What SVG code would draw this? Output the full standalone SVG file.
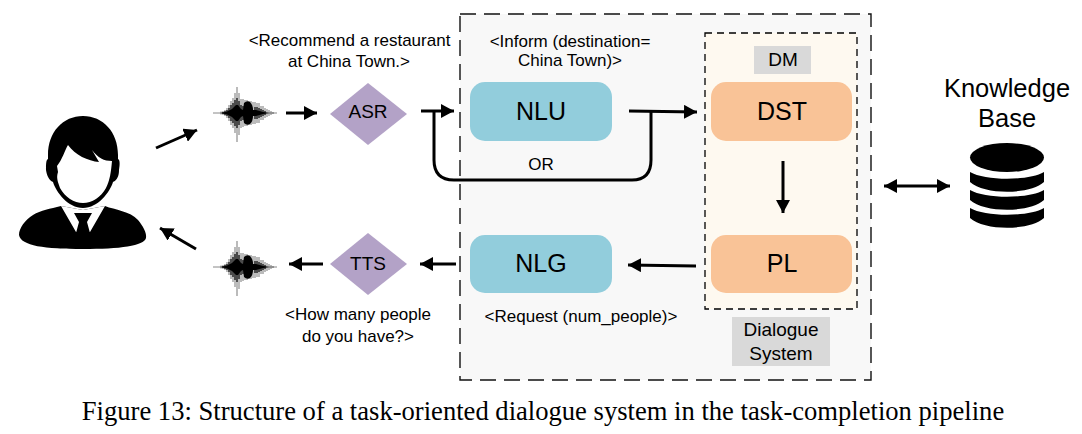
<svg xmlns="http://www.w3.org/2000/svg" width="1082" height="434" viewBox="0 0 1082 434">
<style>
text{font-family:"Liberation Sans",Arial,sans-serif;fill:#000;text-anchor:middle}
.lb{font-size:17px}
.sh{font-size:19px}
.nd{font-size:25px}
.ln{fill:none;stroke:#000;stroke-width:3}
.blue{fill:#92cddc}
.org{fill:#f9c397}
.pur{fill:#b3a2c7}
.gr{fill:#d9d9d9}
</style>
<defs>
<marker id="a" markerUnits="userSpaceOnUse" markerWidth="14" markerHeight="14" refX="13" refY="7" orient="auto-start-reverse"><path d="M0 0L13 7L0 14Z" fill="#000"/></marker>
<g id="wave">
<path d="M-32 0H32" stroke="#888" stroke-width="1" fill="none"/>
<path d="M-24 -1.500V1.500M-22 -2V2M-20 -3V3M-18 -5V5M-16 -8V8M-14 -12V12M-12 -15V15M-10 -20V20M-8 -26V29M-6 -20V22M-4 -14V15M-2 -14V14M0 -13V13M2 -13V13M4 -12V12M6 -12V12M8 -11V11M10 -11V11M12 -10V10M14 -10V10M16 -7V7M18 -7V7M20 -5V5M22 -4V4M24 -3V3M26 -2V2M28 -1V1" stroke="#000" stroke-width="1.400" opacity=".38" fill="none"/>
<path d="M-22 -1V1M-20 -2V2M-18 -3V3M-16 -5V5M-14 -8V8M-12 -10V10M-10 -13V13M-8 -15V15M-6 -12V12M-4 -8V8M-2 -7V7M10 -6V6M12 -6V6M14 -5V5M16 -4V4M18 -3V3M20 -2V2" stroke="#000" stroke-width="1.600" opacity=".75" fill="none"/>
<path d="M-24 0L-18 -1.500L-13 -4L-9 -8L-7 -8L-4 -4L-2 -3L-1 -10Q2 -13 5 -11Q8 -8 8 -3L11 -3L18 -1L24 0L18 1L11 3L8 3Q8 8 5 11Q2 13 -1 10L-2 3L-4 4L-7 8L-9 8L-13 4L-18 1.500Z" fill="#000"/>
</g>
</defs>
<rect width="1082" height="434" fill="#fff"/>
<g id="dialogue-system">
<rect x="460" y="14" width="411" height="366" fill="#f8f8f8" stroke="#111" stroke-width="1.400" stroke-dasharray="16 8"/>
<rect x="705" y="33" width="152" height="276" fill="#fef9f0" stroke="#000" stroke-width="1.300" stroke-dasharray="7 5"/>
<rect class="gr" x="732" y="317" width="98" height="49"/>
<text class="sh" x="781" y="336">Dialogue</text>
<text class="sh" x="781" y="360">System</text>
</g>
<g id="user">
<path d="M48 155C48 132 63 116 83 116C103 116 118 132 118 155L118 159C120 160 120 164 119 170C119 176 117 180 113 182C110 192 98 208 83 208C68 208 56 192 53 182C49 180 47 176 46 170C46 164 46 160 48 159Z" fill="#000"/>
<path d="M57 166C62 160 65 150 68 145C75 155 88 161 99 162L92 150C98 158 104 161 112 161C111 172 110 180 106 188C101 197 92 203 83 203C74 203 65 197 60 188C58 182 56 178 58 172Z" fill="#fff"/>
<path d="M61 206L83 210L105 206C115 210 130 211 138 220C143 226 147 233 146 238C144 246 120 249 83 249C45 249 21 246 19 235C19 228 25 220 33 215C41 210 50 209 61 206Z" fill="#000"/>
<path d="M61 206L83 210L105 206L90 232L76 232Z" fill="#fff"/>
<path d="M74 213L92 213L87 222L90 233L76 233L79 222Z" fill="#000"/>
</g>
<use id="wave-in" href="#wave" x="245" y="113"/>
<use id="wave-out" href="#wave" x="245" y="267"/>
<g id="asr"><path class="pur" d="M368 83L407 114L368 145L330 114Z"/><text class="sh" x="368" y="118">ASR</text></g>
<g id="tts"><path class="pur" d="M368 233L407 264L368 295L330 264Z"/><text class="sh" x="368" y="270">TTS</text></g>
<g id="nlu"><rect class="blue" x="470" y="82" width="142" height="59" rx="15"/><text class="nd" x="541" y="120">NLU</text></g>
<g id="nlg"><rect class="blue" x="470" y="235" width="142" height="58" rx="15"/><text class="nd" x="541" y="272">NLG</text></g>
<g id="dst"><rect class="org" x="711" y="82" width="141" height="59" rx="15"/><text class="nd" x="782" y="120">DST</text></g>
<g id="pl"><rect class="org" x="711" y="235" width="141" height="58" rx="15"/><text class="nd" x="782" y="272">PL</text></g>
<g id="dm"><rect class="gr" x="754" y="46" width="57" height="28"/><text class="sh" x="783" y="66">DM</text></g>
<g id="kb">
<text x="1007" y="97" style="font-size:25.500px">Knowledge</text>
<text x="1007" y="127" style="font-size:25.500px">Base</text>
<ellipse cx="1007" cy="157.500" rx="37" ry="14.500" fill="#000"/>
<path id="b1" d="M970 172C985 181 1029 181 1044 172L1044 182C1030 195 984 195 970 182Z" fill="#000"/>
<path d="M970 190C985 199 1029 199 1044 190L1044 200C1030 213 984 213 970 200Z" fill="#000"/>
<path d="M970 208C985 217 1029 217 1044 208L1044 218C1030 231 984 231 970 218Z" fill="#000"/>
</g>
<g id="labels">
<text class="lb" x="349.500" y="46">&lt;Recommend a restaurant</text>
<text class="lb" x="349" y="67">at China Town.&gt;</text>
<text class="lb" x="570" y="47">&lt;Inform (destination=</text>
<text class="lb" x="570" y="66">China Town)&gt;</text>
<text class="lb" x="541" y="170">OR</text>
<text class="lb" x="581" y="322">&lt;Request (num_people)&gt;</text>
<text class="lb" x="358" y="320">&lt;How many people</text>
<text class="lb" x="358" y="342">do you have?&gt;</text>
<text x="543" y="420" style="font-family:'Liberation Serif',serif;font-size:26.600px">Figure 13: Structure of a task-oriented dialogue system in the task-completion pipeline</text>
</g>
<g id="connectors">
<path class="ln" d="M156 148L197 130" marker-end="url(#a)"/>
<path class="ln" d="M196 249L160 228" marker-end="url(#a)"/>
<path class="ln" d="M286 113L317 113" marker-end="url(#a)"/>
<path class="ln" d="M421 111L454 111" marker-end="url(#a)"/>
<path class="ln" d="M629 111L697 112" marker-end="url(#a)"/>
<path class="ln" d="M651 111L651 160Q651 180 632 180L454 180Q434 180 434 160L434 111"/>
<path class="ln" d="M783 161L783 213" marker-end="url(#a)"/>
<path class="ln" d="M696 266L628 265" marker-end="url(#a)"/>
<path class="ln" d="M456 264L420 264" marker-end="url(#a)"/>
<path class="ln" d="M323 264L289 264" marker-end="url(#a)"/>
<path class="ln" d="M884 186L950 186" marker-start="url(#a)" marker-end="url(#a)"/>
</g>
</svg>
